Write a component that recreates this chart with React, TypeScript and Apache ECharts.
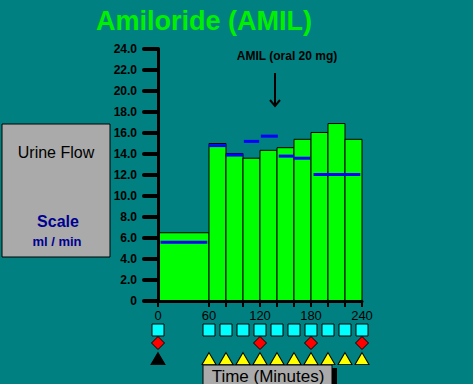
import React, { useEffect, useRef } from "react";
import * as echarts from "echarts";

// Urine flow bars (minutes, ml/min)
const barStart = [0, 60, 80, 100, 120, 140, 160, 180, 200, 220];
const barEnd = [60, 80, 100, 120, 140, 160, 180, 200, 220, 240];
const urineFlow = [6.5, 15.0, 14.05, 13.6, 14.35, 14.6, 15.4, 16.05, 16.9, 15.4];

// Control (blue) levels
const controlStart = [3, 60, 80, 101, 121, 142, 160, 183];
const controlEnd = [58, 80, 100, 119, 141, 160, 179, 238];
const controlFlow = [5.6, 14.8, 13.9, 15.2, 15.7, 13.8, 13.6, 12.05];

// Axis ticks / labels
const xLabelValues = [0, 60, 120, 180, 240];
const xTickValues = [0, 60, 80, 100, 120, 140, 160, 180, 200, 220, 240];

// Marker rows below the axis
const sampleTimes = [0, 60, 80, 100, 120, 140, 160, 180, 200, 220, 240];
const bloodTimes = [0, 120, 180, 240];
const doseTimes = [0];
const collectTimes = [60, 80, 100, 120, 140, 160, 180, 200, 220, 240];

const FONT = "'Liberation Sans', Arial, sans-serif";

export default function App() {
  const ref = useRef<HTMLDivElement>(null);
  useEffect(() => {
    if (!ref.current) return;
    const chart = echarts.init(ref.current, null, { renderer: "svg" });
    const barData = barStart.map((s, i) => [s, barEnd[i], urineFlow[i]]);
    const ctrlData = controlStart.map((s, i) => [s, controlEnd[i], controlFlow[i]]);
    const option: any = {
      animation: false,
      backgroundColor: "#008080",
      textStyle: { fontFamily: FONT },
      grid: [
        { left: 158, right: 111, top: 49, bottom: 83 },
        { left: 158, right: 111, top: 317, height: 52 },
      ],
      xAxis: [
        {
          type: "value",
          gridIndex: 0,
          min: 0,
          max: 240,
          z: 10,
          splitLine: { show: false },
          axisLine: { show: true, lineStyle: { color: "#000", width: 3 } },
          axisTick: {
            show: true,
            customValues: xTickValues,
            length: 6,
            lineStyle: { color: "#000", width: 2 },
          },
          axisLabel: {
            customValues: xLabelValues,
            color: "#000",
            fontSize: 13,
            fontFamily: FONT,
            margin: 8,
          },
        },
        {
          type: "value",
          gridIndex: 1,
          min: 0,
          max: 240,
          show: false,
        },
      ],
      yAxis: [
        {
          type: "value",
          gridIndex: 0,
          min: 0,
          max: 24,
          interval: 2,
          z: 10,
          splitLine: { show: false },
          axisLine: { show: true, lineStyle: { color: "#000", width: 3 } },
          axisTick: {
            show: true,
            length: 14,
            lineStyle: { color: "#000", width: 4, cap: "round" },
          },
          axisLabel: {
            color: "#000",
            fontSize: 12,
            fontWeight: "bold",
            fontFamily: FONT,
            margin: 21,
            formatter: (v: number) => (v === 0 ? "0" : v.toFixed(1)),
          },
        },
        {
          type: "value",
          gridIndex: 1,
          min: 0,
          max: 4,
          inverse: true,
          show: false,
        },
      ],
      series: [
        {
          type: "custom",
          xAxisIndex: 0,
          yAxisIndex: 0,
          data: barData,
          encode: { x: [0, 1], y: 2 },
          renderItem: (params: any, api: any) => {
            const p0 = api.coord([api.value(0), api.value(2)]);
            const p1 = api.coord([api.value(1), 0]);
            return {
              type: "rect",
              shape: { x: p0[0], y: p0[1], width: p1[0] - p0[0], height: p1[1] - p0[1] },
              style: { fill: "#00ff00", stroke: "#000", lineWidth: 1 },
            };
          },
        },
        {
          type: "custom",
          xAxisIndex: 0,
          yAxisIndex: 0,
          data: ctrlData,
          encode: { x: [0, 1], y: 2 },
          z: 5,
          renderItem: (params: any, api: any) => {
            const p0 = api.coord([api.value(0), api.value(2)]);
            const p1 = api.coord([api.value(1), api.value(2)]);
            return {
              type: "line",
              shape: { x1: p0[0], y1: p0[1], x2: p1[0], y2: p1[1] },
              style: { stroke: "#0000ff", lineWidth: 3 },
            };
          },
        },
        {
          type: "scatter",
          xAxisIndex: 1,
          yAxisIndex: 1,
          clip: false,
          symbol: "rect",
          symbolSize: 12,
          itemStyle: { color: "#00ffff", borderColor: "#000", borderWidth: 1, opacity: 1 },
          data: sampleTimes.map((t) => [t, 1]),
        },
        {
          type: "scatter",
          xAxisIndex: 1,
          yAxisIndex: 1,
          clip: false,
          symbol: "diamond",
          symbolSize: [13, 13],
          itemStyle: { color: "#ff0000", borderColor: "#000", borderWidth: 1, opacity: 1 },
          data: bloodTimes.map((t) => [t, 2]),
        },
        {
          type: "scatter",
          xAxisIndex: 1,
          yAxisIndex: 1,
          clip: false,
          symbol: "triangle",
          symbolSize: [14, 12],
          itemStyle: { color: "#000", borderColor: "#000", borderWidth: 1, opacity: 1 },
          data: doseTimes.map((t) => [t, 3.2]),
        },
        {
          type: "scatter",
          xAxisIndex: 1,
          yAxisIndex: 1,
          clip: false,
          symbol: "triangle",
          symbolSize: [14, 12],
          itemStyle: { color: "#ffff00", borderColor: "#000", borderWidth: 1, opacity: 1 },
          data: collectTimes.map((t) => [t, 3.2]),
        },
      ],
      graphic: [
        {
          type: "text",
          x: 204,
          y: 21,
          style: {
            text: "Amiloride (AMIL)",
            fill: "#00f000",
            font: `bold 27px ${FONT}`,
            align: "center",
            verticalAlign: "middle",
          },
        },
        {
          type: "rect",
          shape: { x: 2, y: 124, width: 108, height: 133 },
          style: { fill: "#aaaaaa", stroke: "#000", lineWidth: 1 },
        },
        {
          type: "text",
          x: 56,
          y: 152,
          style: {
            text: "Urine Flow",
            fill: "#000",
            font: `16px ${FONT}`,
            align: "center",
            verticalAlign: "middle",
          },
        },
        {
          type: "text",
          x: 58,
          y: 221,
          style: {
            text: "Scale",
            fill: "#000090",
            font: `bold 16px ${FONT}`,
            align: "center",
            verticalAlign: "middle",
          },
        },
        {
          type: "text",
          x: 57,
          y: 241,
          style: {
            text: "ml / min",
            fill: "#000090",
            font: `bold 13px ${FONT}`,
            align: "center",
            verticalAlign: "middle",
          },
        },
        {
          type: "text",
          x: 287,
          y: 56,
          style: {
            text: "AMIL (oral 20 mg)",
            fill: "#000",
            font: `bold 12px ${FONT}`,
            align: "center",
            verticalAlign: "middle",
          },
        },
        {
          type: "line",
          shape: { x1: 275, y1: 73, x2: 275, y2: 106 },
          style: { stroke: "#000", lineWidth: 2 },
        },
        {
          type: "polyline",
          shape: { points: [[270, 100], [275, 106], [280, 100]] },
          style: { stroke: "#000", lineWidth: 2, fill: null },
        },
        {
          type: "rect",
          shape: { x: 207, y: 368, width: 130, height: 20 },
          style: { fill: "#000" },
        },
        {
          type: "rect",
          shape: { x: 203, y: 365, width: 129, height: 22 },
          style: { fill: "#aaaaaa", stroke: "#000", lineWidth: 1 },
        },
        {
          type: "text",
          x: 268,
          y: 376,
          style: {
            text: "Time (Minutes)",
            fill: "#000",
            font: `17px ${FONT}`,
            align: "center",
            verticalAlign: "middle",
          },
        },
      ],
    };
    chart.setOption(option);
    return () => chart.dispose();
  }, []);
  return (
    <div
      ref={ref}
      style={{ position: "fixed", left: 0, top: 0, width: 473, height: 384 }}
    />
  );
}
